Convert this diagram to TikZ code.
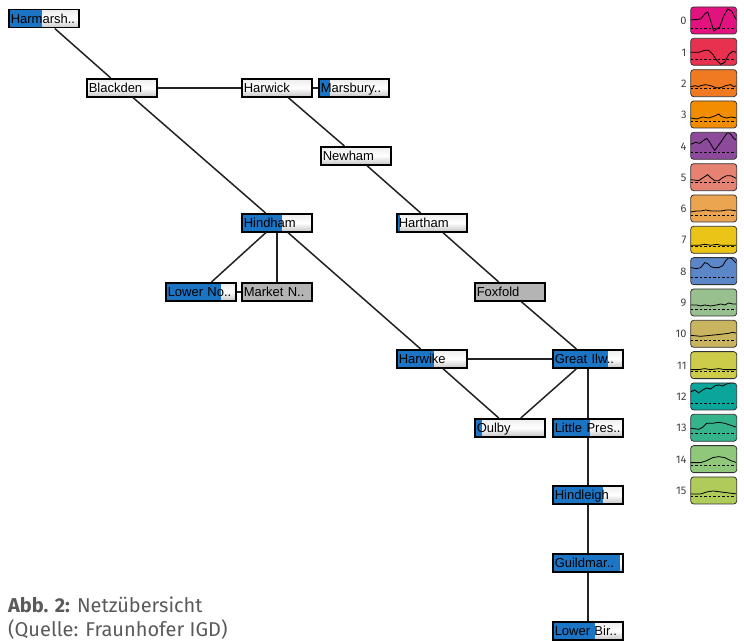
\documentclass[tikz,border=0pt]{standalone}
\usepackage{fontspec}
\setmainfont{Liberation Sans}
\newfontfamily\capfont{Fira Sans}
\definecolor{progblue}{HTML}{1C74C4}
\definecolor{boxgray}{HTML}{B4B4B4}
\definecolor{capgray}{HTML}{5A5A5A}
\definecolor{edgec}{HTML}{222222}
\definecolor{lc0}{HTML}{E2137F}
\definecolor{lc1}{HTML}{E8304F}
\definecolor{lc2}{HTML}{EF7A22}
\definecolor{lc3}{HTML}{F28C00}
\definecolor{lc4}{HTML}{8E4A9A}
\definecolor{lc5}{HTML}{E58272}
\definecolor{lc6}{HTML}{EBA550}
\definecolor{lc7}{HTML}{EAC518}
\definecolor{lc8}{HTML}{5B86C8}
\definecolor{lc9}{HTML}{97C08E}
\definecolor{lc10}{HTML}{C9B460}
\definecolor{lc11}{HTML}{CDCB4A}
\definecolor{lc12}{HTML}{0AA59B}
\definecolor{lc13}{HTML}{35B48C}
\definecolor{lc14}{HTML}{8FC87A}
\definecolor{lc15}{HTML}{AFCB5A}
\newcommand\legbox[4]{%
  \begin{scope}[shift={(690.7,{7+31.33*#1})}]
    \fill[#2, rounded corners=3pt] (0,0) rectangle (46,27);
    \begin{scope}
      \clip[rounded corners=3pt] (0,0) rectangle (46,27);
      \draw[sparkdash] (0,#3) -- (46,#3);
      \draw[sparkline] plot coordinates {#4};
    \end{scope}
    \draw[rounded corners=3pt, draw=black!80, line width=0.8pt] (0,0) rectangle (46,27);
    \node[leglabel] (lab#1) at (-4,14) {#1};
  \end{scope}}
\begin{document}
\begin{tikzpicture}[x=1pt,y=-1pt,
  netbase/.style={draw=black, line width=1.5pt, anchor=north west,
    minimum width=70pt, minimum height=18pt, text width=66pt,
    text height=11.5pt, text depth=1.9pt,
    inner xsep=2pt, inner ysep=0pt, align=left,
    font=\fontsize{13}{14}\selectfont},
  netbox/.style={netbase, top color=gray!15, bottom color=gray!45, middle color=white},
  graybox/.style={netbase, fill=boxgray},
  prog/.style={path picture={\fill[progblue] (path picture bounding box.south west) rectangle ([xshift=#1pt]path picture bounding box.north west);}},
  edge/.style={draw=edgec, line width=1.5pt},
  sparkline/.style={draw=black, line width=0.8pt},
  sparkdash/.style={draw=black, line width=0.8pt, dash pattern=on 2.5pt off 2pt},
  leglabel/.style={anchor=east, inner sep=0pt, text=black!75, font=\capfont\fontsize{11}{12}\selectfont}
]
\useasboundingbox (0,0) rectangle (744,642);

% network nodes
\node[netbox, prog=33] (harmarsh) at (8,9) {Harmarsh..};
\node[netbox] (blackden) at (86,78) {Blackden};
\node[netbox] (harwick) at (241,78) {Harwick};
\node[netbox, prog=11] (marsbury) at (318,78) {Marsbury..};
\node[netbox] (newham) at (320,146) {Newham};
\node[netbox, prog=40] (hindham) at (241,213) {Hindham};
\node[netbox, prog=3] (hartham) at (396,213) {Hartham};
\node[netbox, prog=55] (lowerno) at (165,282) {Lower No..};
\node[graybox] (marketn) at (241,282) {Market N..};
\node[graybox] (foxfold) at (474,282) {Foxfold};
\node[netbox, prog=37] (harwike) at (396,349) {Harwike};
\node[netbox, prog=55] (greatilw) at (552,349) {Great Ilw..};
\node[netbox, prog=7] (oulby) at (474,418) {Oulby};
\node[netbox, prog=37] (littlepres) at (552,418) {Little Pres..};
\node[netbox, prog=50] (hindleigh) at (552,485) {Hindleigh};
\node[netbox, prog=67] (guildmar) at (552,553) {Guildmar..};
\node[netbox, prog=42] (lowerbir) at (552,621) {Lower Bir..};

% connectors
\draw[edge] (harmarsh) -- (blackden);
\draw[edge] (blackden) -- (harwick);
\draw[edge] (blackden) -- (hindham);
\draw[edge] (harwick) -- (marsbury);
\draw[edge] (harwick) -- (newham);
\draw[edge] (newham) -- (hartham);
\draw[edge] (hindham) -- (lowerno);
\draw[edge] (hindham) -- (marketn);
\draw[edge] (hindham) -- (harwike);
\draw[edge] (lowerno) -- (marketn);
\draw[edge] (hartham) -- (foxfold);
\draw[edge] (foxfold) -- (greatilw);
\draw[edge] (harwike) -- (greatilw);
\draw[edge] (harwike) -- (oulby);
\draw[edge] (greatilw) -- (oulby);
\draw[edge] (greatilw) -- (littlepres);
\draw[edge] (littlepres) -- (hindleigh);
\draw[edge] (hindleigh) -- (guildmar);
\draw[edge] (guildmar) -- (lowerbir);

% legend
\legbox{0}{lc0}{21}{(0,13) (10,12) (14,7) (17,5) (20,14) (23,24) (26,22) (29,20) (33,9) (37,2) (41,4) (44,10) (46,13)}
\legbox{1}{lc1}{21}{(0,14) (8,14) (14,12) (18,12) (22,16) (26,22) (30,26) (34,24) (38,16) (42,13) (46,14)}
\legbox{2}{lc2}{19}{(0,17) (5,16) (8,17) (10,16) (15,15) (20,16) (25,18) (30,18) (35,16) (40,15) (43,17) (46,16)}
\legbox{3}{lc3}{20}{(0,17) (6,18) (9,17) (12,16) (18,17) (24,15) (28,13) (30,15) (32,16) (36,17) (40,16) (46,17)}
\legbox{4}{lc4}{20}{(0,12) (5,10) (9,11) (13,8) (16,6) (19,10) (22,15) (24,18) (27,14) (30,10) (34,4) (37,0) (40,2) (43,6) (46,8)}
\legbox{5}{lc5}{19}{(0,16) (8,17) (14,13) (17,11) (20,14) (24,17) (28,17) (32,14) (36,12) (40,12) (46,15)}
\legbox{6}{lc6}{20}{(0,17) (6,16) (10,16) (15,15) (20,16) (26,16) (30,16) (36,15) (40,15) (46,16)}
\legbox{7}{lc7}{20}{(0,19) (8,19) (14,18) (20,19) (26,18) (30,19) (36,19) (46,19)}
\legbox{8}{lc8}{20}{(0,10) (6,11) (10,10) (14,5) (17,6) (20,9) (24,10) (28,10) (32,8) (35,3) (38,0) (41,1) (44,4) (46,6)}
\legbox{9}{lc9}{20}{(0,16) (6,16) (10,17) (14,16) (20,17) (26,16) (30,15) (34,16) (38,14) (42,15) (46,15)}
\legbox{10}{lc10}{20}{(0,15) (10,16) (20,15) (30,14) (38,13) (42,12) (46,13)}
\legbox{11}{lc11}{20}{(0,18) (8,18) (14,17) (20,18) (28,17) (34,18) (46,18)}
\legbox{12}{lc12}{20}{(0,9) (4,7) (8,10) (12,7) (16,5) (20,6) (24,3) (28,2) (32,3) (36,1) (40,0) (46,0)}
\legbox{13}{lc13}{19}{(0,14) (8,15) (12,13) (16,9) (22,9) (28,8) (34,9) (40,11) (46,13)}
\legbox{14}{lc14}{20}{(0,17) (10,17) (16,15) (22,12) (28,11) (34,12) (40,15) (46,17)}
\legbox{15}{lc15}{19}{(0,17) (10,17) (16,15) (22,14) (30,15) (38,16) (46,17)}

% caption
\node[anchor=base west, inner sep=0pt, text=capgray, font=\capfont\fontsize{20}{24}\selectfont] (cap1) at (8,612) {\textbf{Abb. 2:} Netzübersicht};
\node[anchor=base west, inner sep=0pt, text=capgray, font=\capfont\fontsize{20}{24}\selectfont] (cap2) at (8,636) {(Quelle: Fraunhofer IGD)};
\end{tikzpicture}
\end{document}
